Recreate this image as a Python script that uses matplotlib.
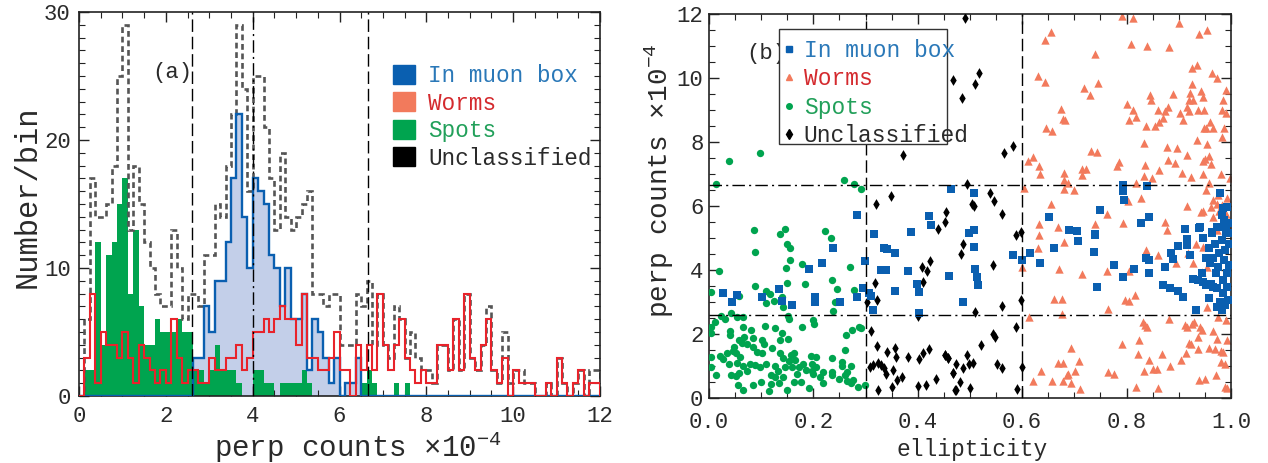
import numpy as np
import matplotlib
matplotlib.use("Agg")
import matplotlib.pyplot as plt
from matplotlib.patches import Patch, Rectangle
from matplotlib.lines import Line2D
from matplotlib.ticker import MultipleLocator, FormatStrFormatter

plt.rcParams['font.family'] = ['Liberation Mono', 'DejaVu Sans']
plt.rcParams['mathtext.fontset'] = 'custom'
plt.rcParams['mathtext.rm'] = 'Liberation Mono'
plt.rcParams['mathtext.it'] = 'Liberation Mono'
plt.rcParams['axes.unicode_minus'] = False
plt.rcParams['text.color'] = '#2a2a2a'
plt.rcParams['axes.labelcolor'] = '#2a2a2a'
plt.rcParams['xtick.labelcolor'] = '#2a2a2a'
plt.rcParams['ytick.labelcolor'] = '#2a2a2a'

# ---- panel (a): histograms, bin width 0.125 from 0 to 12 ----
bin_width = 0.125
hist_all = [0, 6, 17, 14, 14, 15, 18, 25, 29, 13, 18, 15, 12, 10, 8, 7,
            7, 13, 10, 6, 8, 8, 7, 11, 11, 15, 14, 18, 22, 29, 24, 16,
            25, 25, 21, 17, 13, 19, 14, 13, 14, 15, 16, 8, 8, 7, 8, 8,
            4, 4, 4, 8, 7, 9, 4, 8, 4, 3, 7, 6, 3, 5, 3, 2,
            2, 1, 4, 4, 2, 6, 2, 8, 3, 2, 4, 7, 2, 1, 5, 1,
            2, 2, 1, 1, 0, 0, 1, 0, 3, 1, 0, 1, 2, 0, 2, 2]
hist_muon = [0, 0, 0, 0, 0, 0, 0, 0, 0, 0, 0, 0, 0, 0, 0, 0,
             0, 0, 0, 0, 0, 3, 3, 7, 5, 9, 9, 12, 17, 22, 14, 10,
             17, 16, 15, 11, 10, 7, 10, 6, 6, 8, 2, 6, 5, 3, 1, 3,
             0, 1, 1, 3, 0, 0, 0, 0, 0, 0, 0, 0, 0, 0, 0, 0,
             0, 0, 0, 0, 0, 0, 0, 0, 0, 0, 0, 0, 0, 0, 0, 0,
             0, 0, 0, 0, 0, 0, 0, 0, 0, 0, 0, 0, 0, 0, 0, 0]
hist_worms = [0, 3, 8, 1, 5, 4, 4, 3, 5, 3, 1, 4, 3, 2, 1, 2,
              1, 6, 3, 1, 2, 2, 1, 1, 3, 2, 2, 3, 3, 4, 2, 3,
              5, 5, 6, 5, 6, 7, 6, 6, 4, 8, 3, 3, 2, 2, 3, 5,
              2, 2, 0, 4, 2, 4, 2, 8, 4, 2, 4, 6, 3, 2, 1, 2,
              1, 1, 4, 4, 2, 6, 2, 8, 3, 2, 4, 6, 2, 1, 3, 0,
              2, 1, 1, 1, 0, 0, 1, 0, 3, 1, 0, 1, 2, 0, 1, 1]
hist_spots = [0, 2, 2, 12, 4, 11, 12, 15, 17, 8, 13, 7, 4, 4, 6, 5,
              5, 5, 6, 5, 5, 2, 2, 1, 2, 4, 2, 2, 2, 1, 0, 0,
              2, 2, 1, 1, 0, 1, 1, 1, 1, 2, 1, 0, 0, 0, 0, 0,
              0, 0, 0, 0, 1, 2, 1, 0, 0, 0, 1, 0, 1, 0, 0, 0,
              0, 0, 0, 0, 0, 0, 0, 0, 0, 0, 0, 0, 0, 0, 0, 0,
              0, 0, 0, 0, 0, 0, 0, 0, 0, 0, 0, 0, 0, 0, 0, 0]
cut_lines_a = [2.6, 4.0, 6.65]

# ---- panel (b): ellipticity vs perp counts ----
muon_e = [0.284, 0.317, 0.388, 0.421, 0.426, 0.464, 0.508, 0.793, 0.793, 0.840,
          0.795, 0.750, 0.652, 0.843, 0.828, 0.690, 0.706, 0.740, 0.499, 0.508,
          0.912, 0.939, 0.979, 0.984, 0.982, 0.987, 0.993, 0.991, 0.974, 0.964,
          0.915, 0.947, 0.996, 0.238, 0.335, 0.342, 0.357, 0.217, 0.191, 0.298,
          0.329, 0.339, 0.381, 0.460, 0.399, 0.403, 0.357, 0.296, 0.306, 0.310,
          0.284, 0.251, 0.204, 0.204, 0.160, 0.139, 0.135, 0.102, 0.053, 0.045,
          0.027, 0.315, 0.403, 0.487, 0.510, 0.513, 0.516, 0.508, 0.583, 0.600,
          0.615, 0.634, 0.661, 0.707, 0.738, 0.740, 0.743, 0.776, 0.794, 0.815,
          0.837, 0.843, 0.843, 0.828, 0.870, 0.874, 0.883, 0.886, 0.889, 0.898,
          0.899, 0.909, 0.915, 0.915, 0.921, 0.928, 0.933, 0.941, 0.937, 0.944,
          0.947, 0.953, 0.958, 0.960, 0.958, 0.961, 0.963, 0.966, 0.969, 0.971,
          0.973, 0.974, 0.976, 0.978, 0.979, 0.980, 0.982, 0.984, 0.985, 0.987,
          0.989, 0.990, 0.992, 0.993, 0.995, 0.996, 0.996, 0.997, 0.982, 0.989,
          0.966, 0.953, 0.947]
muon_p = [5.71, 5.11, 5.17, 5.68, 5.39, 6.52, 6.39, 6.65, 6.46, 6.62,
          6.18, 5.87, 5.64, 5.64, 5.47, 5.24, 5.21, 5.12, 5.16, 5.26,
          5.29, 5.32, 6.39, 5.92, 5.71, 5.55, 5.97, 5.34, 5.34, 5.17,
          4.95, 5.01, 5.14, 4.67, 4.68, 4.64, 4.51, 4.20, 4.04, 4.26,
          3.99, 3.99, 3.96, 3.80, 3.55, 3.30, 3.33, 3.42, 3.28, 3.18,
          3.14, 2.99, 3.14, 2.98, 2.89, 3.02, 3.39, 3.14, 3.21, 3.00,
          3.29, 2.74, 2.64, 2.99, 4.04, 3.76, 3.52, 4.72, 4.45, 4.32,
          4.51, 4.20, 4.67, 4.90, 4.56, 5.08, 3.47, 4.15, 3.76, 4.04,
          4.37, 4.32, 3.89, 5.45, 3.51, 4.09, 3.42, 4.51, 4.35, 3.34,
          4.74, 3.16, 4.93, 4.77, 4.46, 3.70, 2.74, 5.33, 3.68, 3.91,
          4.98, 4.37, 4.67, 4.20, 3.11, 3.57, 5.14, 4.37, 4.82, 3.89,
          2.84, 3.42, 4.09, 4.51, 3.00, 5.35, 4.93, 3.68, 3.26, 4.30,
          4.61, 5.14, 3.89, 3.47, 3.05, 4.15, 4.82, 5.45, 2.74, 2.90,
          3.47, 3.52, 3.63]

worms_e = [0.792, 0.813, 0.901, 0.656, 0.644, 0.939, 0.955, 0.808, 0.840, 0.881,
           0.739, 0.925, 0.934, 0.964, 0.973, 0.630, 0.644, 0.745, 0.719, 0.729,
           0.926, 0.990, 0.845, 0.888, 0.921, 0.943, 0.946, 0.846, 0.800, 0.812,
           0.920, 0.928, 0.985, 0.674, 0.861, 0.880, 0.874, 0.902, 0.916, 0.920,
           0.937, 0.949, 0.982, 0.990, 0.679, 0.683, 0.818, 0.805, 0.870, 0.863,
           0.854, 0.838, 0.909, 0.960, 0.953, 0.949, 0.966, 0.987, 0.982, 0.646,
           0.658, 0.934, 0.955, 0.833, 0.878, 0.897, 0.732, 0.743, 0.915, 0.950,
           0.957, 0.946, 0.962, 0.621, 0.611, 0.633, 0.786, 0.781, 0.835, 0.879,
           0.893, 0.863, 0.906, 0.923, 0.947, 0.981, 0.635, 0.680, 0.715, 0.722,
           0.714, 0.681, 0.688, 0.681, 0.700, 0.833, 0.849, 0.819, 0.603, 0.953,
           0.998, 0.958, 0.828, 0.656, 0.803, 0.916, 0.947, 0.966, 0.975, 0.982,
           0.993, 0.762, 0.632, 0.669, 0.739, 0.794, 0.874, 0.877, 0.973, 0.995,
           0.965, 0.990, 0.942, 0.973, 0.978, 0.962,
           0.632, 0.680, 0.631, 0.671, 0.714, 0.762, 0.804, 0.838, 0.861, 0.895,
           0.918, 0.933, 0.947, 0.928, 0.945, 0.955, 0.661, 0.677, 0.764, 0.797,
           0.805, 0.816, 0.600, 0.614, 0.677, 0.832, 0.835, 0.840, 0.881, 0.911,
           0.915, 0.926, 0.929, 0.941, 0.944, 0.966, 0.974, 0.936, 0.923, 0.824,
           0.791, 0.693, 0.669, 0.679, 0.709, 0.702, 0.685, 0.688, 0.637, 0.620,
           0.657, 0.679, 0.694, 0.711, 0.765, 0.775, 0.821, 0.843, 0.851, 0.859,
           0.834, 0.868, 0.883, 0.904, 0.914, 0.920, 0.936, 0.957, 0.969, 0.981,
           0.980, 0.988, 0.971, 0.938, 0.951, 0.818, 0.861, 0.988, 0.993, 0.955,
           0.976, 0.984, 0.990, 0.993, 0.985]
worms_p = [11.93, 11.89, 11.72, 11.44, 11.18, 11.36, 11.49, 11.07, 11.00, 10.97,
           10.74, 10.31, 10.40, 10.16, 10.00, 10.05, 9.88, 9.84, 9.69, 9.46,
           9.82, 9.62, 9.46, 9.49, 9.53, 9.58, 9.41, 9.32, 9.17, 9.01,
           9.32, 9.30, 9.30, 9.04, 9.01, 9.09, 8.96, 8.89, 9.09, 8.97,
           8.99, 8.99, 8.99, 8.89, 8.73, 8.68, 8.78, 8.70, 8.75, 8.63,
           8.49, 8.49, 8.70, 8.63, 8.44, 8.42, 8.44, 8.44, 8.16, 8.42,
           8.33, 8.07, 7.92, 7.95, 7.84, 7.81, 7.72, 7.67, 7.58, 7.45,
           7.55, 7.41, 7.30, 7.53, 7.40, 7.25, 7.38, 7.24, 7.29, 7.43,
           7.35, 7.12, 7.04, 6.89, 6.99, 7.01, 6.99, 7.03, 7.14, 7.14,
           6.96, 6.80, 6.72, 6.54, 6.51, 6.93, 6.86, 6.72, 6.57, 6.51,
           6.86, 6.73, 6.25, 6.07, 6.15, 5.99, 5.85, 6.18, 6.35, 6.02,
           6.23, 5.76, 5.42, 5.34, 5.42, 5.47, 5.48, 5.24, 5.24, 5.34,
           5.66, 5.76, 5.81, 6.07, 5.84, 5.95,
           5.08, 4.88, 4.67, 4.01, 3.87, 3.97, 3.97, 4.62, 4.46, 4.20,
           4.51, 4.80, 4.72, 4.20, 3.94, 4.10, 3.08, 3.08, 2.76, 3.05,
           3.02, 3.21, 4.10, 2.51, 2.62, 2.38, 2.27, 2.20, 2.45, 2.26,
           2.22, 2.32, 2.38, 2.22, 2.12, 2.08, 1.85, 1.91, 1.68, 1.82,
           1.68, 1.56, 1.10, 1.10, 1.15, 0.84, 0.71, 0.74, 0.84, 0.53,
           0.53, 0.53, 0.45, 0.27, 0.81, 0.74, 1.36, 1.18, 0.89, 0.89,
           0.83, 1.36, 0.99, 1.18, 1.41, 1.70, 1.51, 1.57, 1.51, 1.47,
           1.13, 1.07, 0.71, 0.55, 0.57, 0.32, 0.31, 0.35, 0.29, 2.84,
           2.53, 2.95, 2.43, 1.80, 1.44]

spots_e = [0.013, 0.038, 0.098, 0.258, 0.278, 0.292, 0.087, 0.137, 0.146, 0.223,
           0.234, 0.149, 0.155, 0.089, 0.019, 0.155, 0.179, 0.147, 0.271, 0.236,
           0.184, 0.150, 0.088, 0.245, 0.278, 0.003, 0.110, 0.058, 0.117, 0.139,
           0.109, 0.124, 0.241, 0.142, 0.238, 0.042, 0.023, 0.031, 0.054, 0.065,
           0.151, 0.153, 0.199, 0.202, 0.003, 0.004, 0.011, 0.040, 0.065, 0.081,
           0.108, 0.126, 0.179, 0.140, 0.152, 0.085, 0.275, 0.287, 0.292, 0.262,
           0.260, 0.040, 0.057, 0.067, 0.064, 0.048, 0.072, 0.046, 0.035, 0.021,
           0.003, 0.027, 0.038, 0.052, 0.059, 0.053, 0.066, 0.079, 0.073, 0.058,
           0.052, 0.085, 0.093, 0.102, 0.105, 0.102, 0.109, 0.098, 0.088, 0.120,
           0.126, 0.136, 0.137, 0.141, 0.132, 0.119, 0.126, 0.141, 0.146, 0.154,
           0.157, 0.163, 0.165, 0.172, 0.159, 0.168, 0.181, 0.195, 0.206, 0.197,
           0.186, 0.197, 0.206, 0.213, 0.218, 0.177, 0.162, 0.192, 0.149, 0.135,
           0.119, 0.115, 0.099, 0.084, 0.065, 0.056, 0.043, 0.013, 0.003, 0.236,
           0.236, 0.255, 0.255, 0.264, 0.261, 0.250, 0.265, 0.273, 0.276, 0.286,
           0.299, 0.273, 0.236, 0.218, 0.200]
spots_p = [6.69, 7.40, 7.65, 6.82, 6.69, 6.54, 5.26, 5.11, 5.28, 5.22,
           5.01, 4.82, 4.69, 4.56, 3.97, 4.30, 4.19, 4.06, 4.08, 3.67,
           3.55, 3.60, 3.48, 3.41, 3.37, 3.32, 3.34, 3.18, 3.24, 3.15,
           2.95, 3.04, 2.98, 2.83, 2.72, 2.66, 2.55, 2.46, 2.51, 2.52,
           2.56, 2.47, 2.43, 2.32, 2.22, 2.01, 2.38, 2.09, 2.20, 2.12,
           2.24, 2.19, 2.20, 2.01, 1.83, 1.86, 2.11, 2.22, 2.17, 1.97,
           1.49, 1.96, 1.80, 1.89, 1.72, 1.59, 1.68, 1.47, 1.39, 1.31,
           1.28, 1.20, 1.05, 1.39, 1.26, 1.09, 0.99, 1.07, 0.84, 0.76,
           0.69, 1.59, 1.44, 1.80, 1.68, 1.41, 1.07, 0.97, 1.01, 1.54,
           1.00, 1.80, 1.41, 1.23, 0.83, 0.72, 0.66, 0.66, 0.97, 1.14,
           1.33, 1.41, 1.18, 0.97, 0.95, 0.74, 1.04, 1.30, 1.28, 1.07,
           0.88, 0.83, 0.97, 0.66, 0.81, 0.50, 0.49, 0.29, 0.24, 0.45,
           0.43, 0.22, 0.50, 0.40, 0.24, 0.40, 0.71, 0.70, 0.97, 1.23,
           0.81, 0.99, 1.12, 0.80, 0.71, 0.57, 0.52, 0.45, 0.55, 0.34,
           0.40, 0.98, 0.71, 0.47, 0.74]

uncl_e = [0.490, 0.468, 0.510, 0.518, 0.484, 0.565, 0.583, 0.494, 0.538, 0.546,
          0.503, 0.508, 0.455, 0.452, 0.561, 0.588, 0.597, 0.372, 0.348, 0.320,
          0.438, 0.318, 0.302, 0.321, 0.408, 0.418, 0.411, 0.424, 0.400, 0.310,
          0.322, 0.341, 0.357, 0.358, 0.382, 0.402, 0.411, 0.422, 0.453, 0.458,
          0.308, 0.315, 0.324, 0.329, 0.336, 0.340, 0.353, 0.370, 0.361, 0.351,
          0.323, 0.400, 0.415, 0.435, 0.468, 0.473, 0.487, 0.482, 0.545, 0.510,
          0.561, 0.598, 0.589, 0.545, 0.548, 0.522, 0.452, 0.457, 0.494, 0.474,
          0.486, 0.499, 0.506, 0.552, 0.561, 0.468, 0.481, 0.471, 0.500, 0.591,
          0.599]
uncl_p = [11.86, 9.93, 9.80, 10.16, 9.38, 7.64, 7.87, 6.68, 6.41, 6.15,
          6.07, 6.00, 5.81, 5.48, 5.76, 5.08, 5.17, 7.58, 6.30, 6.07,
          5.28, 3.60, 3.00, 3.05, 4.09, 3.96, 3.62, 4.28, 2.55, 2.09,
          1.62, 1.44, 1.56, 1.28, 1.28, 1.20, 1.39, 1.53, 1.33, 1.23,
          0.97, 1.01, 1.10, 1.02, 0.92, 0.74, 0.87, 0.66, 0.55, 0.34,
          0.24, 0.37, 0.40, 0.57, 0.78, 0.24, 4.82, 4.49, 4.15, 2.69,
          2.87, 3.07, 2.22, 1.99, 1.91, 1.65, 1.33, 1.23, 1.33, 1.04,
          0.94, 1.05, 1.10, 1.07, 0.92, 0.78, 0.50, 0.24, 0.29, 0.27,
          0.97]
cut_e = [0.3, 0.6]
cut_p = [2.6, 6.65]

labels = ['In muon box', 'Worms', 'Spots', 'Unclassified']
text_colors = ['#2a78b8', '#d42a2e', '#22a05a', '#2a2a2a']

c_blue = '#0a5fb0'
c_lightblue = '#c3cfe9'
c_red = '#e8232b'
c_salmon = '#f27a5c'
c_green = '#00a44f'
c_gray = '#555555'

fig = plt.figure(figsize=(12.68, 4.63), dpi=100)
ax1 = fig.add_axes([0.0623, 0.1447, 0.4109, 0.8294])
ax2 = fig.add_axes([0.5591, 0.1410, 0.4117, 0.8288])

# panel (a)
edges = np.arange(len(hist_all) + 1) * bin_width
ax1.stairs(hist_muon, edges, fill=True, color=c_lightblue, zorder=1)
ax1.stairs(hist_spots, edges, fill=True, color=c_green, zorder=2)
ax1.stairs(hist_all, edges, color=c_gray, lw=1.9, ls=(0, (2.2, 1.4)), zorder=2.5)
ax1.stairs(hist_muon, edges, color=c_blue, lw=1.7, zorder=3)
ax1.stairs(hist_worms, edges, color=c_red, lw=1.5, zorder=4)
ax1.axvline(cut_lines_a[0], color='k', lw=1.0, ls=(0, (9, 3.5)), zorder=6)
ax1.axvline(cut_lines_a[1], color='k', lw=1.0, ls=(0, (9, 3, 1.5, 3)), zorder=6)
ax1.axvline(cut_lines_a[2], color='k', lw=1.0, ls=(0, (9, 3.5)), zorder=6)
ax1.set_xlim(0, 12)
ax1.set_ylim(0, 30)
ax1.xaxis.set_major_locator(MultipleLocator(2))
ax1.xaxis.set_minor_locator(MultipleLocator(0.5))
ax1.yaxis.set_major_locator(MultipleLocator(10))
ax1.yaxis.set_minor_locator(MultipleLocator(1))
ax1.text(1.68, 25.3, '(a)', fontsize=16, va='center')
ax1.set_xlabel('perp counts \u00d710$^{-4}$', fontsize=21, va='center')
ax1.xaxis.set_label_coords(0.535, -0.133)
ax1.set_ylabel('Number/bin', fontsize=22, va='center')
ax1.yaxis.set_label_coords(-0.098, 0.52)

handles_a = [Patch(color=c_blue), Patch(color=c_salmon),
             Patch(color=c_green), Patch(color='k')]
leg_a = ax1.legend(handles_a, labels, loc='upper left',
                   bbox_to_anchor=(0.585, 0.888), frameon=False,
                   fontsize=16.3, handlelength=1.0, handleheight=0.9,
                   handletextpad=0.55, labelspacing=0.2, borderaxespad=0)
for t, c in zip(leg_a.get_texts(), text_colors):
    t.set_color(c)

# panel (b)
ax2.scatter(worms_e, worms_p, marker='^', s=36, color=c_salmon, lw=0, zorder=2)
ax2.scatter(spots_e, spots_p, marker='o', s=28, color=c_green, lw=0, zorder=3)
ax2.scatter(uncl_e, uncl_p, marker='d', s=30, color='k', lw=0, zorder=3)
ax2.scatter(muon_e, muon_p, marker='s', s=32, color=c_blue, lw=0, zorder=4)
for e in cut_e:
    ax2.axvline(e, color='k', lw=1.0, ls=(0, (9, 3.5)), zorder=5)
for p in cut_p:
    ax2.axhline(p, color='k', lw=1.0, ls=(0, (9, 3, 1.5, 3)), zorder=5)
ax2.set_xlim(0, 1)
ax2.set_ylim(0, 12)
ax2.xaxis.set_major_locator(MultipleLocator(0.2))
ax2.xaxis.set_minor_locator(MultipleLocator(0.05))
ax2.yaxis.set_major_locator(MultipleLocator(2))
ax2.yaxis.set_minor_locator(MultipleLocator(0.5))
ax2.xaxis.set_major_formatter(FormatStrFormatter('%.1f'))
ax2.text(0.071, 10.77, '(b)', fontsize=16, va='center', zorder=1)
ax2.set_xlabel('ellipticity', fontsize=16.5, va='center')
ax2.xaxis.set_label_coords(0.505, -0.134)
ax2.set_ylabel('perp counts \u00d710$^{-4}$', fontsize=20, va='center')
ax2.yaxis.set_label_coords(-0.094, 0.565)

# legend box is narrower than its last label, as in the original
ax2.add_patch(Rectangle((0.134, 0.661), 0.322, 0.300, transform=ax2.transAxes,
                        facecolor='white', edgecolor='#333333', lw=1.0, zorder=6))
handles_b = [Line2D([], [], ls='', marker='s', ms=4, color=c_blue),
             Line2D([], [], ls='', marker='^', ms=4.5, color=c_salmon),
             Line2D([], [], ls='', marker='o', ms=4, color=c_green),
             Line2D([], [], ls='', marker='d', ms=5, color='k')]
leg_b = ax2.legend(handles_b, labels, loc='upper left',
                   bbox_to_anchor=(0.14, 0.936), fontsize=16.5, frameon=False,
                   handlelength=0.6, handletextpad=0.35, labelspacing=0.24,
                   borderpad=0, borderaxespad=0)
leg_b.set_zorder(7)
for t, c in zip(leg_b.get_texts(), text_colors):
    t.set_color(c)

for ax in (ax1, ax2):
    ax.tick_params(which='both', direction='in', top=True, right=True,
                   labelsize=16, color='#222222')
    ax.tick_params(which='major', length=7.5, width=1.0)
    ax.tick_params(which='minor', length=4.2, width=0.8)
    for s in ax.spines.values():
        s.set_linewidth(1.2)
        s.set_color('#222222')
ax1.tick_params(axis='x', pad=7)
ax1.tick_params(axis='y', pad=6)
ax2.tick_params(axis='x', pad=10)
ax2.tick_params(axis='y', pad=4)

fig.savefig('out.png', dpi=100)
